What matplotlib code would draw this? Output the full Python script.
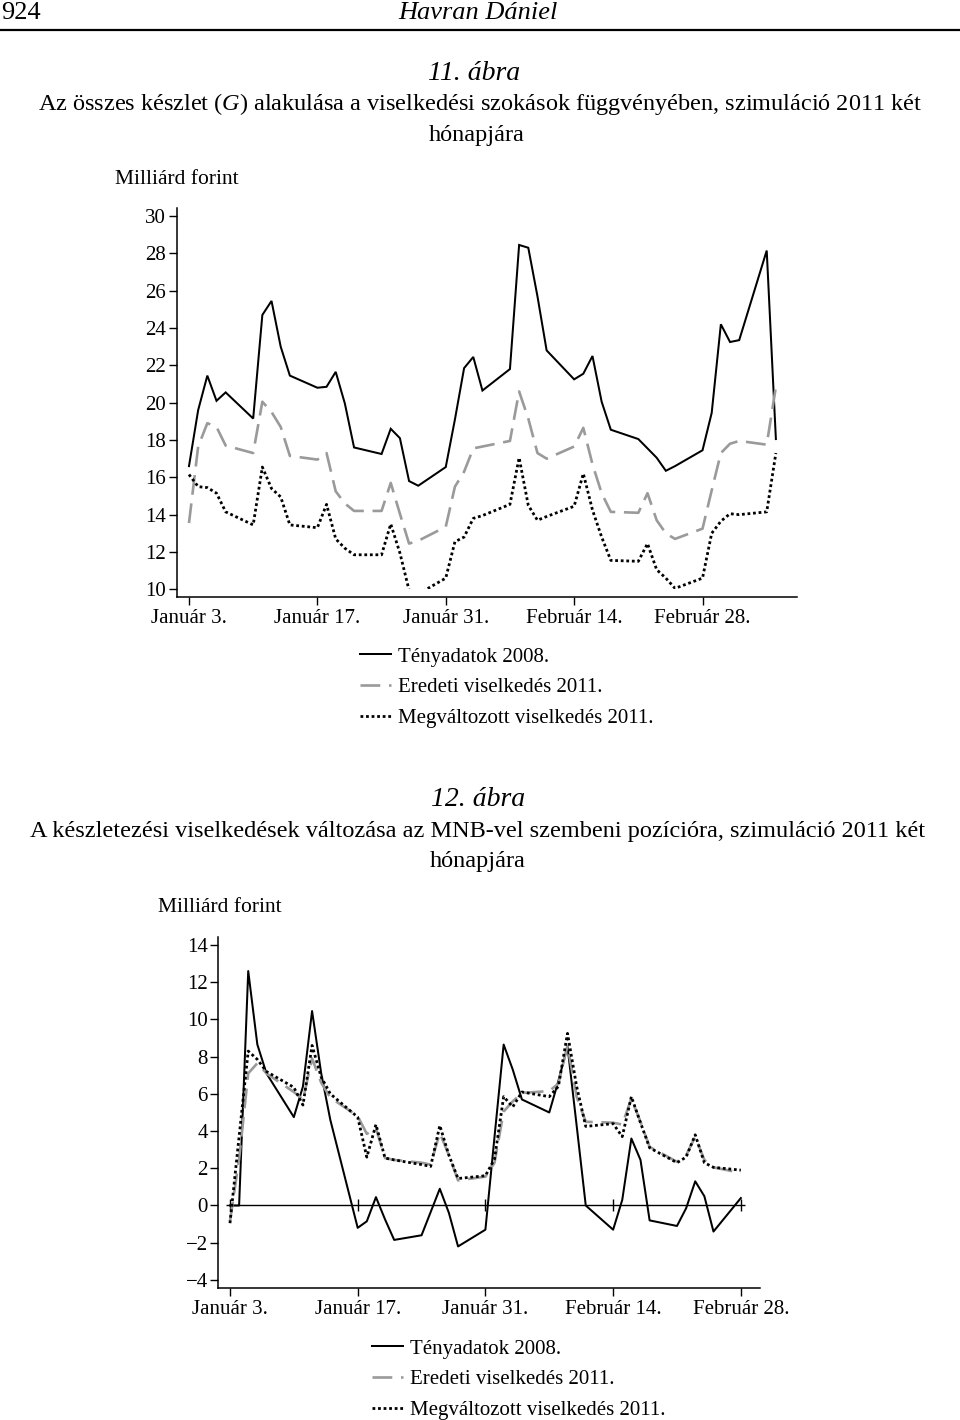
import matplotlib
matplotlib.use("Agg")
import matplotlib.pyplot as plt
import matplotlib.dates as mdates
from matplotlib.lines import Line2D
from matplotlib.patches import Rectangle
import pandas as pd

plt.rcParams['font.family'] = ['Liberation Serif', 'DejaVu Serif']
plt.rcParams['mathtext.fontset'] = 'custom'
plt.rcParams['mathtext.rm'] = 'Liberation Serif'
plt.rcParams['mathtext.it'] = 'Liberation Serif:italic'

# ---------------- data ----------------
top_start, top_end = '2011-01-03', '2011-03-08'
bottom_start, bottom_end = '2011-01-03', '2011-02-28'

tick_dates = ['2011-01-03', '2011-01-17', '2011-01-31', '2011-02-14', '2011-02-28']
tick_labels = ['Január 3.', 'Január 17.', 'Január 31.', 'Február 14.', 'Február 28.']

series_names = ['Tényadatok 2008.', 'Eredeti viselkedés 2011.', 'Megváltozott viselkedés 2011.']

# 11. ábra – total stock (business days, Jan 3 – Mar 8)
top_teny = [16.6, 19.6, 21.45, 20.1, 20.55,
            19.15, 24.7, 25.45, 23.0, 21.45,
            20.8, 20.85, 21.65, 19.95, 17.6,
            17.25, 18.6, 18.1, 15.8, 15.55,
            16.55, 19.1, 21.85, 22.45, 20.65,
            21.8, 28.45, 28.3, 25.7, 22.8,
            21.25, 21.55, 22.5, 20.05, 18.55,
            18.05, 17.55, 17.05, 16.35, 16.6,
            17.45, 19.45, 24.2, 23.25, 23.35,
            28.15, 18.05]
top_eredeti = [13.55, 17.65, 18.9, 18.7, 17.7,
               17.3, 20.05, 19.5, 18.7, 17.15,
               16.95, 17.3, 15.25, 14.6, 14.2,
               14.2, 15.7, 14.05, 12.45, 12.6,
               13.35, 15.5, 16.3, 17.55, 17.65,
               17.95, 20.6, 19.15, 17.3, 17.0,
               17.65, 18.65, 16.7, 15.15, 14.15,
               14.1, 15.15, 13.7, 13.0, 12.7,
               13.25, 15.3, 17.3, 17.8, 17.95,
               17.75, 20.85]
top_megvalt = [16.15, 15.5, 15.45, 15.15, 14.15,
               13.45, 16.55, 15.4, 14.95, 13.45,
               13.3, 14.55, 12.7, 12.2, 11.85,
               11.85, 13.5, 11.95, 9.95, 9.75,
               10.6, 12.55, 12.8, 13.8, 13.95,
               14.55, 17.05, 14.5, 13.7, 13.9,
               14.45, 16.2, 14.25, 12.8, 11.55,
               11.5, 12.45, 11.05, 10.6, 10.05,
               10.6, 13.0, 13.65, 14.05, 14.0,
               14.15, 17.3]

# 12. ábra – position against MNB (business days, Jan 3 – Feb 28)
bot_teny = [0.0, 0.0, 12.6, 8.65, 7.1,
            4.75, 6.4, 10.45, 7.1, 4.6,
            -1.2, -0.85, 0.45, -0.75, -1.85,
            -1.6, -0.35, 0.9, -0.4, -2.2,
            -1.3, 3.7, 8.65, 7.3, 5.7,
            5.0, 6.7, 8.55, 4.3, 0.0,
            -1.3, 0.3, 3.6, 2.45, -0.8,
            -1.1, -0.15, 1.3, 0.5, -1.4,
            0.4]
bot_eredeti = [-0.85, 2.5, 7.1, 7.65, 7.1,
               6.1, 5.7, 7.9, 6.6, 5.8,
               4.8, 3.85, 4.15, 2.55, 2.45,
               2.3, 2.2, 3.9, 2.7, 1.35,
               1.55, 2.3, 5.05, 5.6, 6.05,
               6.15, 6.55, 8.6, 5.85, 4.5,
               4.45, 4.35, 5.75, 4.5, 3.15,
               2.35, 2.7, 3.7, 2.45, 2.05,
               1.75]
bot_megvalt = [-0.95, 3.7, 8.3, 7.85, 7.2,
               6.35, 5.4, 8.6, 6.9, 6.0,
               4.75, 2.6, 4.35, 2.55, 2.45,
               2.2, 2.1, 4.3, 2.7, 1.45,
               1.6, 2.5, 5.85, 5.3, 6.1,
               5.85, 6.4, 9.25, 6.4, 4.25,
               4.4, 3.7, 5.85, 4.45, 3.1,
               2.3, 2.6, 3.8, 2.3, 2.05,
               1.9]

top_yticks = list(range(10, 31, 2))
bot_yticks = list(range(-4, 15, 2))

# ---------------- styles ----------------
W, H = 960, 1420
def fx(px):
    return px / W
def fy(py):
    return 1 - py / H

GREY = '#9a9a9a'
styles = [
    dict(color='black', lw=1.45, ls='-'),
    dict(color=GREY, lw=1.9, ls=(0, (7.5, 3.3))),
    dict(color='black', lw=2.0, ls=(0, (1, 1))),
]
TICKFS = 15
LEGFS = 15
TITLEFS = 17.5

fig = plt.figure(figsize=(W / 100, H / 100), dpi=100)

# ---------------- header ----------------
fig.text(fx(1), fy(13), '924', ha='left', va='center', fontsize=19)
fig.text(fx(478), fy(13), 'Havran Dániel', ha='center', va='center', fontsize=19, style='italic')
fig.add_artist(Line2D([0, 1], [fy(30), fy(30)], transform=fig.transFigure, color='black', lw=1.6))

# ---------------- titles ----------------
fig.text(fx(474), fy(73), '11. ábra', ha='center', va='center', fontsize=20, style='italic')
title1 = 'Az összes készlet ($\\mathit{G}$) alakulása a viselkedési szokások függvényében, szimuláció 2011 két'
fig.text(fx(480), fy(104), title1, ha='center', va='center', fontsize=TITLEFS)
fig.text(fx(477), fy(135), 'hónapjára', ha='center', va='center', fontsize=TITLEFS)
fig.text(fx(115), fy(180), 'Milliárd forint', ha='left', va='center', fontsize=15.5)

fig.text(fx(478), fy(800), '12. ábra', ha='center', va='center', fontsize=20, style='italic')
fig.text(fx(478), fy(832), 'A készletezési viselkedések változása az MNB-vel szembeni pozícióra, szimuláció 2011 két',
         ha='center', va='center', fontsize=TITLEFS)
fig.text(fx(478), fy(862), 'hónapjára', ha='center', va='center', fontsize=TITLEFS)
fig.text(fx(158), fy(908), 'Milliárd forint', ha='left', va='center', fontsize=15.5)


def style_axes(ax, yticks):
    for s in ['top', 'right']:
        ax.spines[s].set_visible(False)
    for s in ['left', 'bottom']:
        ax.spines[s].set_linewidth(1.1)
    ax.set_yticks(yticks)
    ax.set_yticklabels([str(v).replace('-', '\u2212') for v in yticks])
    ax.set_xticks(pd.to_datetime(tick_dates))
    ax.set_xticklabels(tick_labels)
    ax.tick_params(axis='both', direction='out', length=5.5, width=1.0, labelsize=TICKFS, color='black')
    ax.tick_params(axis='y', pad=2)
    ax.tick_params(axis='x', pad=3)


# ---------------- top chart ----------------
tdates = pd.bdate_range(top_start, top_end)
ax1 = fig.add_axes([fx(176.7), fy(596.7), (796.7 - 176.7) / W, (596.7 - 208) / H])
clip = Rectangle((mdates.date2num(tdates[0]) - 10, 10), 200, 30, transform=ax1.transData)
for vals, st in zip([top_teny, top_eredeti, top_megvalt], styles):
    ln, = ax1.plot(tdates, vals, color=st['color'], lw=st['lw'], ls=st['ls'], solid_joinstyle='miter')
    ln.set_clip_path(clip)
ax1.set_xlim(tdates[0] - pd.Timedelta(days=1.34), tdates[0] + pd.Timedelta(days=66.27))
ax1.set_ylim(9.604, 30.43)
style_axes(ax1, top_yticks)

handles = [Line2D([], [], color=st['color'], lw=st['lw'], ls=st['ls']) for st in styles]
fig.legend(handles, series_names, loc='upper left', bbox_to_anchor=(fx(360), fy(647)),
           frameon=False, fontsize=LEGFS, handlelength=1.5, handletextpad=0.3,
           labelspacing=0.53, borderpad=0, borderaxespad=0)

# ---------------- bottom chart ----------------
bdates = pd.bdate_range(bottom_start, bottom_end)
ax2 = fig.add_axes([fx(218.3), fy(1288.3), (760 - 218.3) / W, (1288.3 - 937) / H])
ax2.hlines(0, bdates[0] - pd.Timedelta(days=0.4), bdates[-1] + pd.Timedelta(days=0.5), color='black', lw=1.0)
ax2.plot(pd.to_datetime(tick_dates), [0] * len(tick_dates), ls='none', marker='|', ms=8, mew=1.0, color='black')
for vals, st in zip([bot_teny, bot_eredeti, bot_megvalt], styles):
    ax2.plot(bdates, vals, color=st['color'], lw=st['lw'], ls=st['ls'])
ax2.set_xlim(bdates[0] - pd.Timedelta(days=1.28), bdates[0] + pd.Timedelta(days=58.1))
ax2.set_ylim(-4.45, 14.43)
style_axes(ax2, bot_yticks)

fig.legend(handles, series_names, loc='upper left', bbox_to_anchor=(fx(372), fy(1339)),
           frameon=False, fontsize=LEGFS, handlelength=1.5, handletextpad=0.3,
           labelspacing=0.53, borderpad=0, borderaxespad=0)

fig.savefig('out.png', dpi=100, facecolor='white')
